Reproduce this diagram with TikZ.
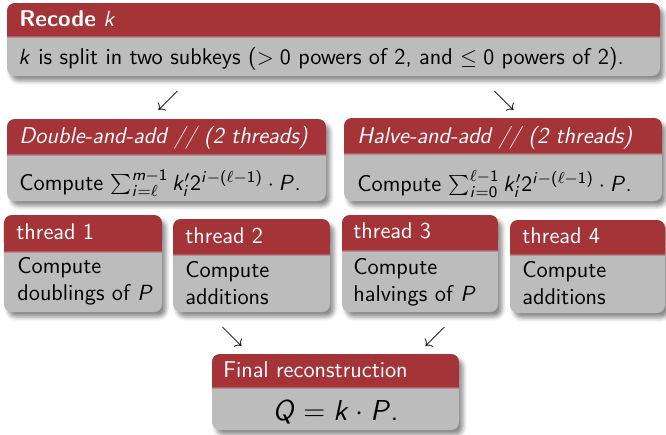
\documentclass[tikz,border=0pt]{standalone}
\usetikzlibrary{shadows.blur}
\DeclareSymbolFont{cmletters}{OML}{cmm}{m}{it}
\SetSymbolFont{letters}{normal}{OT1}{cmss}{m}{sl}
\SetSymbolFont{operators}{normal}{OT1}{cmss}{m}{n}
\let\ell\relax
\DeclareMathSymbol{\ell}{\mathord}{cmletters}{"60}
\DeclareMathSymbol{>}{\mathrel}{cmletters}{"3E}
\DeclareMathSymbol{<}{\mathrel}{cmletters}{"3C}
\DeclareMathSymbol{.}{\mathord}{operators}{"2E}
\DeclareMathSymbol{,}{\mathpunct}{operators}{"2C}
\definecolor{titlered}{RGB}{165,52,56}
\definecolor{bodygray}{RGB}{188,188,188}
\newcommand\myblock[5]{%
  \path[fill=bodygray, rounded corners=4pt, blur shadow={shadow xshift=2pt, shadow yshift=-2.5pt, shadow blur radius=2pt, shadow opacity=45}] (#1,#3) rectangle (#2,#5);
  \path[fill=titlered, rounded corners=4pt] (#1,#3) rectangle (#2,#4);
  \path[fill=titlered] (#1,#4-8) rectangle (#2,#4);
  \path[top color=titlered, bottom color=bodygray] (#1,#4) rectangle (#2,#4+3);
}
\begin{document}
\begin{tikzpicture}[x=0.5pt, y=-0.5pt,
  txt/.style={inner sep=0pt, anchor=base west, font=\fontsize{11.4}{13.5}\selectfont\sffamily},
  ttl/.style={txt, text=white},
  arr/.style={inner sep=0pt, font=\fontsize{11.4}{13.5}\selectfont}]
\useasboundingbox (0,0) rectangle (666,435);
% top block
\myblock{7}{660}{3}{35}{76}
\node[ttl] (t0) at (19,26) {\textbf{Recode} $k$};
\node[txt] (b0) at (18,64) {$k$ is split in two subkeys ($>0$ powers of 2, and $\leq 0$ powers of 2).};
% arrows
\node[arr] (a1) at (168,101) {$\swarrow$};
\node[arr] (a2) at (504,101) {$\searrow$};
% double and add
\myblock{7}{326}{119}{153}{201}
\node[ttl] (t1) at (19,143) {\itshape Double-and-add // (2 threads)};
\node[txt] (b1) at (19,190) {Compute $\sum_{i=\ell}^{m-1} k'_i 2^{i-(\ell-1)}\cdot P$.};
% halve and add
\myblock{344}{662}{118}{152}{201}
\node[ttl] (t2) at (357,143) {\itshape Halve-and-add // (2 threads)};
\node[txt] (b2) at (357,191) {Compute $\sum_{i=0}^{\ell-1} k'_i 2^{i-(\ell-1)}\cdot P$.};
% threads
\myblock{4}{162}{215}{250}{312}
\node[ttl] (t3) at (16,239) {thread 1};
\node[txt, align=left] (b3) at (17,300) {Compute\\doublings of $P$};
\myblock{173}{330}{219}{253}{312}
\node[ttl] (t4) at (185,243) {thread 2};
\node[txt, align=left] (b4) at (185,304) {Compute\\additions};
\myblock{342}{498}{215}{249}{312}
\node[ttl] (t5) at (353,238) {thread 3};
\node[txt, align=left] (b5) at (353,301) {Compute\\halvings of $P$};
\myblock{510}{665}{220}{253}{313}
\node[ttl] (t6) at (522,243) {thread 4};
\node[txt, align=left] (b6) at (522,304) {Compute\\additions};
% arrows
\node[arr] (a3) at (232,337) {$\searrow$};
\node[arr] (a4) at (435,337) {$\swarrow$};
% final
\myblock{212}{459}{354}{386}{430}
\node[ttl] (t7) at (223,377) {Final reconstruction};
\node[txt, anchor=base, font=\fontsize{15.5}{18}\selectfont\sffamily] (b7) at (335.5,420) {$Q=k\cdot P.$};
\end{tikzpicture}
\end{document}
